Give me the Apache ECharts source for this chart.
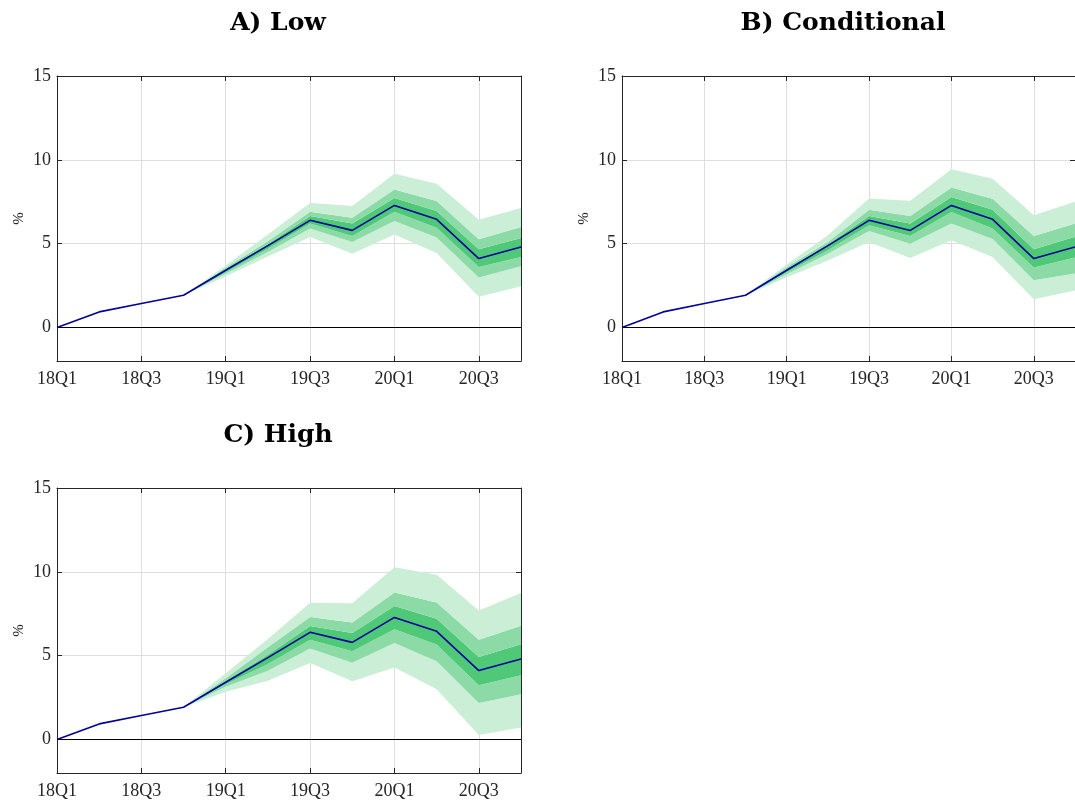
<html style="width: 100%; height: 100%">
<head>
    <meta charset="utf-8">
    <script src="https://cdn.jsdelivr.net/npm/echarts@6/dist/echarts.min.js"></script>
</head>
<body style="width: 100%; height: 100%; margin: 0; background: #fff">
<div id="container" style="width: 1075px; height: 803px"></div>

<script type="text/javascript">
    var quarters = ['18Q1', '18Q2', '18Q3', '18Q4', '19Q1', '19Q2', '19Q3', '19Q4', '20Q1', '20Q2', '20Q3', '20Q4'];
    var yTicks = [0, 5, 10, 15];

    // median path (same in all three panels)
    var median = [0, 0.93, 1.43, 1.92, 3.41, 4.88, 6.39, 5.79, 7.28, 6.45, 4.11, 4.8];

    // A) Low
    var lowOuterLo = [null, null, null, 1.92, 3.05, 4.24, 5.4, 4.4, 5.55, 4.44, 1.83, 2.46];
    var lowMidLo   = [null, null, null, 1.92, 3.2, 4.5, 5.9, 5.1, 6.35, 5.36, 2.98, 3.65];
    var lowInnerLo = [null, null, null, 1.92, 3.3, 4.7, 6.2, 5.45, 6.9, 5.95, 3.61, 4.2];
    var lowInnerHi = [null, null, null, 1.92, 3.5, 4.96, 6.65, 6.2, 7.72, 6.94, 4.66, 5.34];
    var lowMidHi   = [null, null, null, 1.92, 3.58, 5.14, 6.9, 6.55, 8.23, 7.54, 5.26, 5.99];
    var lowOuterHi = [null, null, null, 1.92, 3.7, 5.54, 7.42, 7.24, 9.17, 8.57, 6.43, 7.12];

    // B) Conditional
    var condOuterLo = [null, null, null, 1.92, 3.0, 4.0, 5.1, 4.15, 5.2, 4.2, 1.69, 2.2];
    var condMidLo   = [null, null, null, 1.92, 3.18, 4.4, 5.75, 5.0, 6.2, 5.28, 2.82, 3.22];
    var condInnerLo = [null, null, null, 1.92, 3.3, 4.6, 6.1, 5.45, 6.89, 5.9, 3.57, 4.17];
    var condInnerHi = [null, null, null, 1.92, 3.5, 4.95, 6.65, 6.2, 7.78, 7.02, 4.66, 5.41];
    var condMidHi   = [null, null, null, 1.92, 3.6, 5.1, 7.02, 6.65, 8.35, 7.68, 5.46, 6.2];
    var condOuterHi = [null, null, null, 1.92, 3.75, 5.5, 7.7, 7.56, 9.44, 8.87, 6.69, 7.5];

    // C) High
    var highOuterLo = [null, null, null, 1.92, 2.85, 3.5, 4.56, 3.47, 4.29, 3.0, 0.26, 0.71];
    var highMidLo   = [null, null, null, 1.92, 3.15, 4.1, 5.42, 4.58, 5.75, 4.66, 2.18, 2.7];
    var highInnerLo = [null, null, null, 1.92, 3.3, 4.5, 5.95, 5.26, 6.57, 5.67, 3.23, 3.83];
    var highInnerHi = [null, null, null, 1.92, 3.5, 5.05, 6.77, 6.35, 7.96, 7.2, 4.92, 5.68];
    var highMidHi   = [null, null, null, 1.92, 3.65, 5.5, 7.3, 6.98, 8.77, 8.17, 5.95, 6.79];
    var highOuterHi = [null, null, null, 1.92, 3.95, 6.0, 8.15, 8.13, 10.28, 9.82, 7.7, 8.73];

    var panels = [
        {title: 'A) Low', left: 57, top: 76, bands: [lowOuterLo, lowMidLo, lowInnerLo, lowInnerHi, lowMidHi, lowOuterHi]},
        {title: 'B) Conditional', left: 622, top: 76, bands: [condOuterLo, condMidLo, condInnerLo, condInnerHi, condMidHi, condOuterHi]},
        {title: 'C) High', left: 57, top: 488, bands: [highOuterLo, highMidLo, highInnerLo, highInnerHi, highMidHi, highOuterHi]}
    ];

    var light = '#cbeed7', mid = '#8cdba7', dark = '#4fc878';
    var bandColors = [light, mid, dark, mid, light];
    var serif = 'Liberation Serif';
    var boxColor = '#262626';

    var dom = document.getElementById("container");
    var myChart = echarts.init(dom, null, {renderer: 'canvas'});

    var grids = [], xAxes = [], yAxes = [], titles = [], series = [];
    var W = 464, H = 285;

    panels.forEach(function (p, i) {
        grids.push({left: p.left, top: p.top, width: W, height: H, containLabel: false});
        titles.push({
            text: p.title, left: p.left + W / 2 - 16, top: p.top - 70, textAlign: 'center',
            textStyle: {fontFamily: 'DejaVu Serif', fontWeight: 'bold', fontSize: 25, color: '#000'}
        });
        // bottom + top x axes
        xAxes.push({
            type: 'category', gridIndex: i, data: quarters, boundaryGap: false, position: 'bottom',
            axisLine: {show: true, onZero: false, lineStyle: {color: boxColor, width: 1}},
            axisTick: {show: true, inside: true, interval: 1, length: 5, lineStyle: {color: boxColor}},
            axisLabel: {interval: 1, margin: 9, fontFamily: serif, fontSize: 18, color: '#262626'},
            splitLine: {show: true, interval: 1, lineStyle: {color: '#dedede', width: 1}}
        });
        xAxes.push({
            type: 'category', gridIndex: i, data: quarters, boundaryGap: false, position: 'top',
            axisLine: {show: true, onZero: false, lineStyle: {color: boxColor, width: 1}},
            axisTick: {show: true, inside: true, interval: 1, length: 5, lineStyle: {color: boxColor}},
            axisLabel: {show: false}, splitLine: {show: false}
        });
        // left + right y axes
        yAxes.push({
            type: 'value', gridIndex: i, min: -2, max: 15, position: 'left',
            name: '%', nameLocation: 'middle', nameGap: 30, nameRotate: 90,
            nameTextStyle: {fontFamily: serif, fontSize: 15, color: '#262626'},
            axisLine: {show: true, onZero: false, lineStyle: {color: boxColor, width: 1}},
            axisTick: {show: true, inside: true, length: 5, customValues: yTicks, lineStyle: {color: boxColor}},
            axisLabel: {customValues: yTicks, margin: 6, fontFamily: serif, fontSize: 18, color: '#262626'},
            splitLine: {show: true, lineStyle: {color: '#dedede', width: 1}}
        });
        yAxes.push({
            type: 'value', gridIndex: i, min: -2, max: 15, position: 'right',
            axisLine: {show: true, onZero: false, lineStyle: {color: boxColor, width: 1}},
            axisTick: {show: true, inside: true, length: 5, customValues: yTicks, lineStyle: {color: boxColor}},
            axisLabel: {show: false}, splitLine: {show: false}
        });

        var xi = i * 2, yi = i * 2;
        var b = p.bands;
        // invisible base, then stacked band widths
        series.push({
            type: 'line', xAxisIndex: xi, yAxisIndex: yi, stack: 'fan' + i, stackStrategy: 'all',
            data: b[0].map(function (v) { return v == null ? '-' : v; }),
            symbol: 'none', lineStyle: {opacity: 0}, silent: true
        });
        for (var k = 1; k < b.length; k++) {
            series.push({
                type: 'line', xAxisIndex: xi, yAxisIndex: yi, stack: 'fan' + i, stackStrategy: 'all',
                data: b[k].map(function (v, j) { return v == null ? '-' : +(v - b[k - 1][j]).toFixed(3); }),
                symbol: 'none', lineStyle: {opacity: 0}, silent: true,
                areaStyle: {color: bandColors[k - 1], opacity: 1}
            });
        }
        series.push({
            type: 'line', xAxisIndex: xi, yAxisIndex: yi, data: median, symbol: 'none',
            lineStyle: {color: '#00009a', width: 1.6}, z: 5,
            markLine: {
                silent: true, symbol: 'none', label: {show: false},
                lineStyle: {color: '#000', width: 1, type: 'solid'},
                data: [{yAxis: 0}]
            }
        });
    });

    var option = {
        backgroundColor: '#fff',
        animation: false,
        title: titles,
        grid: grids,
        xAxis: xAxes,
        yAxis: yAxes,
        series: series
    };
    myChart.setOption(option);
</script>
</body>
</html>
